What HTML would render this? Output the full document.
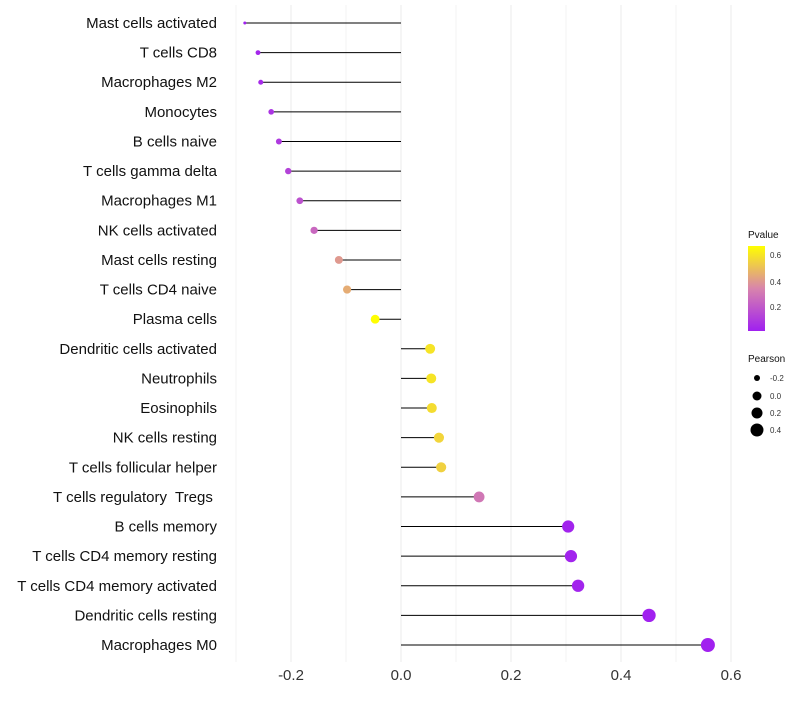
<!DOCTYPE html>
<html><head><meta charset="utf-8"><style>
body{margin:0;background:#fff;font-family:"Liberation Sans",sans-serif;}
svg text{font-family:"Liberation Sans",sans-serif;white-space:pre;}
</style></head><body>
<svg id="chart" width="800" height="700" xmlns="http://www.w3.org/2000/svg">
<defs><linearGradient id="pg" x1="0" y1="1" x2="0" y2="0">
<stop offset="0" stop-color="#A020F0"/><stop offset="0.5" stop-color="#D884AC"/><stop offset="1" stop-color="#FFFF00"/></linearGradient></defs>
<g id="grid"></g><g id="marks"></g><g id="labels"></g>
<g>
<text x="748" y="238" font-size="10" fill="#111">Pvalue</text>
<rect x="748" y="246" width="17" height="85" fill="url(#pg)"/>
<text x="770" y="258" font-size="8" fill="#333">0.6</text>
<text x="770" y="285" font-size="8" fill="#333">0.4</text>
<text x="770" y="310" font-size="8" fill="#333">0.2</text>
</g>
<g>
<text x="748" y="362" font-size="10" fill="#111">Pearson</text>
<circle cx="757" cy="378" r="3" fill="#000"/><text x="770" y="381" font-size="8" fill="#333">-0.2</text>
<circle cx="757" cy="396" r="4.5" fill="#000"/><text x="770" y="399" font-size="8" fill="#333">0.0</text>
<circle cx="757" cy="413" r="5.5" fill="#000"/><text x="770" y="416" font-size="8" fill="#333">0.2</text>
<circle cx="757" cy="430" r="6.5" fill="#000"/><text x="770" y="433" font-size="8" fill="#333">0.4</text>
</g>
</svg>
<script>
const categories=["Mast cells activated","T cells CD8","Macrophages M2","Monocytes","B cells naive","T cells gamma delta","Macrophages M1","NK cells activated","Mast cells resting","T cells CD4 naive","Plasma cells","Dendritic cells activated","Neutrophils","Eosinophils","NK cells resting","T cells follicular helper","T cells regulatory  Tregs ","B cells memory","T cells CD4 memory resting","T cells CD4 memory activated","Dendritic cells resting","Macrophages M0"];
const pearson=[-0.284,-0.26,-0.255,-0.236,-0.222,-0.205,-0.184,-0.158,-0.113,-0.098,-0.047,0.053,0.055,0.056,0.069,0.073,0.142,0.304,0.309,0.322,0.451,0.558];
const pvalues=[0.02,0.04,0.05,0.08,0.1,0.13,0.18,0.25,0.4,0.45,0.67,0.6,0.6,0.58,0.56,0.55,0.3,0.03,0.03,0.03,0.02,0.02];
const xTicks=[-0.2,0,0.2,0.4,0.6];
const xTickLabels=["-0.2","0.0","0.2","0.4","0.6"];
const NS="http://www.w3.org/2000/svg";
const xs=v=>401+v*550;
const ys=i=>23+i*(622/21);
function col(p){
 let t=(p-0.016)/(0.672-0.016);t=Math.max(0,Math.min(1,t));
 const s=[[160,32,240],[216,132,172],[255,255,0]];
 let a,b,f;if(t<0.5){a=s[0];b=s[1];f=t/0.5}else{a=s[1];b=s[2];f=(t-0.5)/0.5}
 return "rgb("+a.map((c,k)=>Math.round(c+(b[k]-c)*f)).join(",")+")";
}
function rad(v){return 1.5+5.5*Math.sqrt(Math.max(0,(v+0.284)/0.842));}
function mk(tag,at,parent){const e=document.createElementNS(NS,tag);for(const k in at)e.setAttribute(k,at[k]);parent.appendChild(e);return e;}
const g=document.getElementById('grid'),m=document.getElementById('marks'),l=document.getElementById('labels');
for(let v=-0.3;v<=0.61;v+=0.1){
 const e=mk('line',{x1:xs(v),x2:xs(v),y1:5,y2:662,stroke:Math.abs(Math.round(v*10)%2)==0?'#ebebeb':'#f3f3f3','stroke-width':1},g);
 
 
}
xTicks.forEach((v,i)=>{
 const t=mk('text',{x:xs(v),y:680,'font-size':15,'text-anchor':'middle',fill:'#333'},l);t.textContent=xTickLabels[i];
 
 
});
categories.forEach((c,i)=>{
 const y=ys(i);
 const ln=mk('line',{x1:xs(0),x2:xs(pearson[i]),y1:y,y2:y,stroke:'#000','stroke-width':1},m);
 
 
 const ci=mk('circle',{cx:xs(pearson[i]),cy:y,r:rad(pearson[i]),fill:col(pvalues[i])},m);
 
 
 const t=mk('text',{x:217,y:y+5,'font-size':15,'text-anchor':'end',fill:'#111'},l);t.textContent=c;
 
 
});
</script>
</body></html>
